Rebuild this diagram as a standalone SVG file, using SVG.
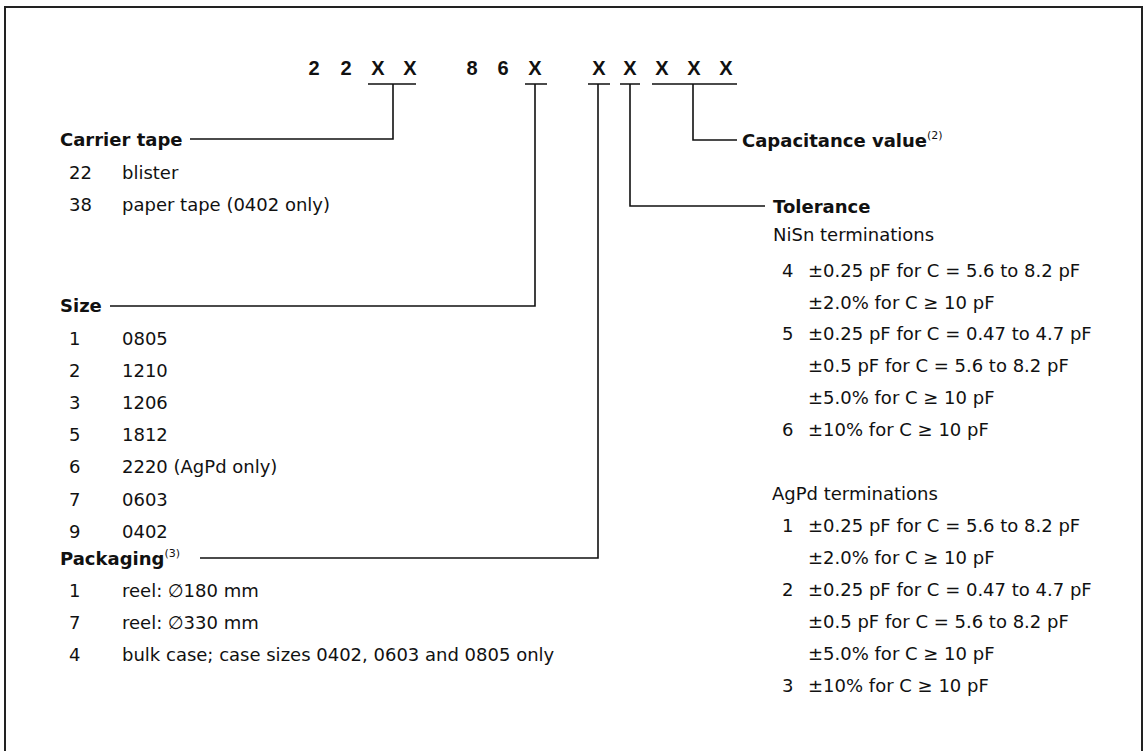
<svg xmlns="http://www.w3.org/2000/svg" width="1146" height="751" viewBox="0 0 1146 751">
<style>
text{font-family:"DejaVu Sans","Liberation Sans",Arial,sans-serif;fill:#111}
.code{font-family:"Liberation Sans",Arial,sans-serif;font-size:20px;font-weight:bold}
.h{font-size:18px;font-weight:bold}
.t{font-size:18px}
.sup{font-size:11px;font-weight:normal}
.ln{fill:none;stroke:#111;stroke-width:1.6}
</style>
<rect x="0" y="0" width="1146" height="751" fill="#fff"/>
<rect x="5" y="7" width="1137" height="760" fill="none" stroke="#222" stroke-width="2"/>
<g id="code">
<text class="code" text-anchor="middle" x="314 346 378 410 472 503 535 599 630 662 694 726" y="75">22XX86XXXXXX</text>
</g>
<g id="connectors" class="ln">
<path class="ln" d="M368,84H416M393,84V139H190"/>
<path class="ln" d="M525,84H547M535,84V306H110"/>
<path class="ln" d="M588,84H610M598,84V558H200"/>
<path class="ln" d="M620,84H640M630,84V206H765"/>
<path class="ln" d="M652,84H737M693,84V140H737"/>
</g>
<g id="carrier-tape">
<text class="h" x="60" y="146">Carrier tape</text>
<text class="t" x="69" y="179">22</text><text class="t" x="122" y="179">blister</text>
<text class="t" x="69" y="211">38</text><text class="t" x="122" y="211">paper tape (0402 only)</text>
</g>
<g id="size">
<text class="h" x="60" y="312">Size</text>
<text class="t" x="69" y="345">1</text><text class="t" x="122" y="345">0805</text>
<text class="t" x="69" y="377">2</text><text class="t" x="122" y="377">1210</text>
<text class="t" x="69" y="409">3</text><text class="t" x="122" y="409">1206</text>
<text class="t" x="69" y="441">5</text><text class="t" x="122" y="441">1812</text>
<text class="t" x="69" y="473">6</text><text class="t" x="122" y="473">2220 (AgPd only)</text>
<text class="t" x="69" y="506">7</text><text class="t" x="122" y="506">0603</text>
<text class="t" x="69" y="538">9</text><text class="t" x="122" y="538">0402</text>
</g>
<g id="packaging">
<text class="h" x="60" y="565">Packaging<tspan class="sup" dy="-8">(3)</tspan></text>
<text class="t" x="69" y="597">1</text><text class="t" x="122" y="597">reel: ∅180 mm</text>
<text class="t" x="69" y="629">7</text><text class="t" x="122" y="629">reel: ∅330 mm</text>
<text class="t" x="69" y="661">4</text><text class="t" x="122" y="661">bulk case; case sizes 0402, 0603 and 0805 only</text>
</g>
<g id="capacitance-value">
<text class="h" x="742" y="147">Capacitance value<tspan class="sup" dy="-8">(2)</tspan></text>
</g>
<g id="tolerance">
<text class="h" x="773" y="213">Tolerance</text>
<text class="t" x="773" y="241">NiSn terminations</text>
<text class="t" x="782" y="277">4</text><text class="t" x="808" y="277">±0.25 pF for C = 5.6 to 8.2 pF</text>
<text class="t" x="808" y="309">±2.0% for C ≥ 10 pF</text>
<text class="t" x="782" y="340">5</text><text class="t" x="808" y="340">±0.25 pF for C = 0.47 to 4.7 pF</text>
<text class="t" x="808" y="372">±0.5 pF for C = 5.6 to 8.2 pF</text>
<text class="t" x="808" y="404">±5.0% for C ≥ 10 pF</text>
<text class="t" x="782" y="436">6</text><text class="t" x="808" y="436">±10% for C ≥ 10 pF</text>
<text class="t" x="772" y="500">AgPd terminations</text>
<text class="t" x="782" y="532">1</text><text class="t" x="808" y="532">±0.25 pF for C = 5.6 to 8.2 pF</text>
<text class="t" x="808" y="564">±2.0% for C ≥ 10 pF</text>
<text class="t" x="782" y="596">2</text><text class="t" x="808" y="596">±0.25 pF for C = 0.47 to 4.7 pF</text>
<text class="t" x="808" y="628">±0.5 pF for C = 5.6 to 8.2 pF</text>
<text class="t" x="808" y="660">±5.0% for C ≥ 10 pF</text>
<text class="t" x="782" y="692">3</text><text class="t" x="808" y="692">±10% for C ≥ 10 pF</text>
</g>
</svg>
